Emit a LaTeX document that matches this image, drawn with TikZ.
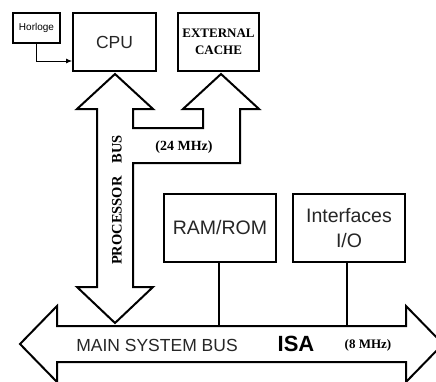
\documentclass[tikz,border=0pt]{standalone}
\usepackage{fontspec}
\setmainfont{Liberation Serif}
\setsansfont{Liberation Sans}
\usetikzlibrary{arrows.meta}
\tikzset{
  box/.style={draw=black, line width=1.8pt, fill=white, inner sep=0pt, font=\sffamily},
  busline/.style={draw=black, line width=2pt, line join=miter, fill=white},
  link/.style={draw=black, line width=1.6pt},
  serifb/.style={font=\rmfamily\bfseries, text=black},
  sanst/.style={font=\sffamily, text=black!85}
}
\begin{document}
\begin{tikzpicture}[x=1pt,y=-1pt]
\clip (0,0) rectangle (436,381);
\fill[white] (0,0) rectangle (436,381);
% processor bus double arrow
\draw[busline] (115,74) -- (153,109) -- (133,109) -- (133,128) -- (203,128) -- (203,109)
  -- (183,109) -- (221,74) -- (259,109) -- (240,109) -- (240,163) -- (133,163)
  -- (133,287) -- (153,287) -- (115,323) -- (77,287) -- (97,287) -- (97,109) -- (77,109) -- cycle;
% main system bus
\draw[busline] (20,344) -- (57,306) -- (57,326) -- (406,326) -- (406,306) -- (443,344)
  -- (406,382) -- (406,362) -- (57,362) -- (57,382) -- cycle;
% boxes
\node[box, line width=1.2pt, minimum width=47pt, minimum height=30pt, font=\sffamily\fontsize{10}{11}\selectfont] (horloge) at (36.5,28) {Horloge};
\node[box, minimum width=83pt, minimum height=58pt, font=\sffamily\fontsize{17.5}{19}\selectfont, text=black!85] (cpu) at (114.5,42) {CPU};
\node[box, minimum width=81pt, minimum height=58pt, align=center, font=\rmfamily\bfseries\fontsize{13}{17}\selectfont] (cache) at (218.5,42) {EXTERNAL\\CACHE};
\node[box, minimum width=112pt, minimum height=68pt, font=\sffamily\fontsize{19.5}{22}\selectfont, text=black!85] (ram) at (220,228) {RAM/ROM};
\node[box, minimum width=112pt, minimum height=68pt, align=center, font=\sffamily\fontsize{19.5}{25}\selectfont, text=black!85] (io) at (349,228) {Interfaces\\I/O\hspace{1em}};
% connectors
\coordinate (ramjoin) at (219,326);
\coordinate (iojoin) at (347,326);
\draw[link] (ram.south -| ramjoin) -- (ramjoin);
\draw[link] (io.south -| iojoin) -- (iojoin);
\draw[line width=1pt, -{Latex[length=6pt,width=5pt]}] (horloge.south) |- ([yshift=-19pt]cpu.west);
% labels
\node[serifb, font=\rmfamily\bfseries\fontsize{14}{16}\selectfont] (f24) at (184,147) {(24 MHz)};
\node[serifb, rotate=90, font=\rmfamily\bfseries\fontsize{14.5}{16}\selectfont] (pbus) at (117,200) {PROCESSOR\hspace{0.9em}BUS};
\node[sanst, font=\sffamily\fontsize{17.5}{20}\selectfont] (msb) at (157,345) {MAIN SYSTEM BUS};
\node[font=\sffamily\bfseries\fontsize{22}{24}\selectfont] (isa) at (296,344) {ISA};
\node[serifb, font=\rmfamily\bfseries\fontsize{13}{14}\selectfont] (f8) at (368,345) {(8 MHz)};
\end{tikzpicture}
\end{document}
